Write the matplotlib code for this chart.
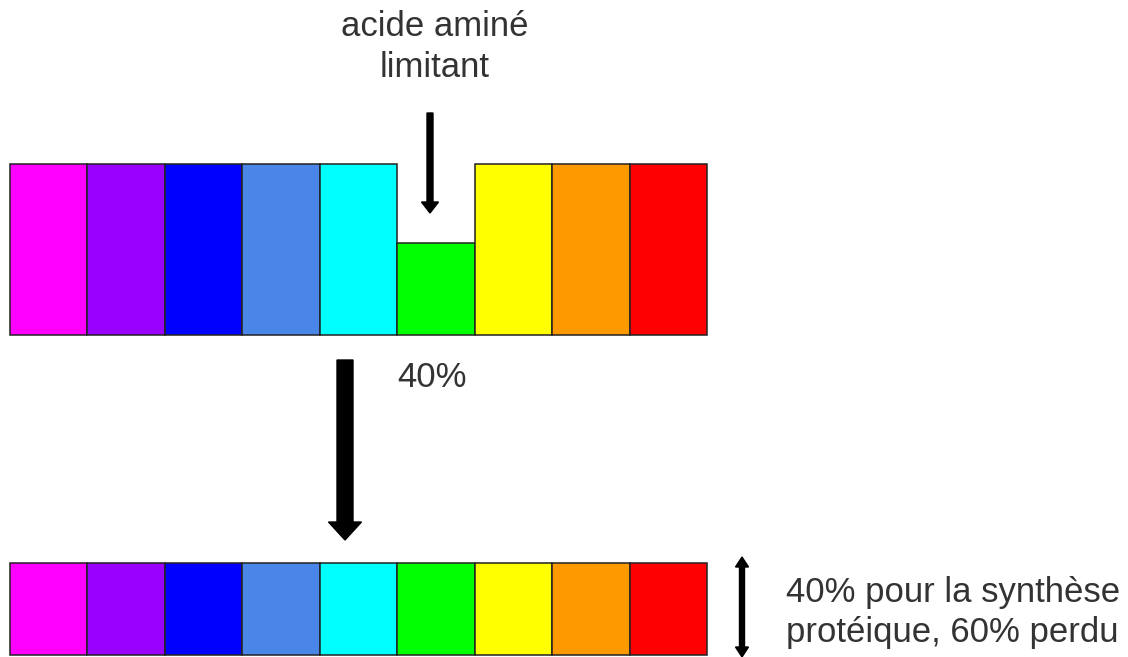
import numpy as np
import matplotlib.pyplot as plt

plt.rcParams['font.family'] = ['Liberation Sans', 'DejaVu Sans']

# acides aminés (couleurs) et niveaux relatifs
aa_colors = ['#ff00ff', '#9900ff', '#0000ff', '#4a86e8', '#00ffff',
             '#00ff00', '#ffff00', '#ff9900', '#ff0000']
top_levels = [100, 100, 100, 100, 100, 54, 100, 100, 100]
# tout est limité par l'acide aminé limitant
bottom_levels = [54] * 9

label_limit = ["acide aminé", "limitant"]
label_pct = "40%"
label_result = ["40% pour la synthèse", "protéique, 60% perdu"]

W, H = 1128, 657
fig = plt.figure(figsize=(W / 100, H / 100), dpi=100)

def row_axes(left, bottom, width, height):
    a = fig.add_axes([left / W, bottom / H, width / W, height / H])
    a.set_xlim(0, 9)
    a.set_ylim(0, 100)
    a.axis('off')
    return a

ax_top = row_axes(10, 322, 697, 171)
ax_top.bar(np.arange(9), top_levels, width=1, align='edge', color=aa_colors,
           edgecolor='#222222', linewidth=1.1, clip_on=False)

ax_bot = row_axes(10, 2, 697, 171)
ax_bot.bar(np.arange(9), bottom_levels, width=1, align='edge', color=aa_colors,
           edgecolor='#222222', linewidth=1.1, clip_on=False)

# calque pour flèches et textes (coordonnées en pixels)
ax = fig.add_axes([0, 0, 1, 1], zorder=5)
ax.set_xlim(0, W)
ax.set_ylim(H, 0)
ax.axis('off')
ax.patch.set_alpha(0)

ax.arrow(430, 113, 0, 100, width=6, head_width=17, head_length=11,
         length_includes_head=True, color='black')
ax.arrow(345, 360, 0, 180, width=16, head_width=33, head_length=18,
         length_includes_head=True, color='black')
ax.arrow(742, 607, 0, -50, width=5, head_width=13, head_length=10,
         length_includes_head=True, color='black')
ax.arrow(742, 607, 0, 50, width=5, head_width=13, head_length=10,
         length_includes_head=True, color='black')

txt = dict(fontsize=25, color='#333333', va='baseline')
for line, yb in zip(label_limit, [36, 77]):
    ax.text(435, yb, line, ha='center', **txt)
ax.text(397, 387, label_pct, ha='left', **txt)
for line, yb in zip(label_result, [602, 642]):
    ax.text(786, yb, line, ha='left', **txt)

fig.savefig('out.png', dpi=100)
